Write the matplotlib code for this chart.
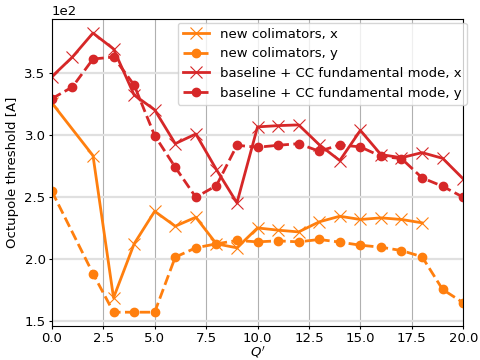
import matplotlib
matplotlib.use("Agg")
import matplotlib.pyplot as plt
import numpy as np

plt.rcParams['font.size'] = 9.5

# chromaticity Q' values
q_new = [0, 2, 3, 4, 5, 6, 7, 8, 9, 10, 11, 12, 13, 14, 15, 16, 17, 18]
q_new_y = [0, 2, 3, 4, 5, 6, 7, 8, 9, 10, 11, 12, 13, 14, 15, 16, 17, 18, 19, 20]
q_base = list(range(21))

# octupole thresholds [A]
new_x = [325.6, 283.2, 168.8, 212.2, 238.4, 226.4, 233.6, 212.2, 209.0, 225.0,
         223.2, 221.8, 229.9, 234.4, 231.8, 233.1, 231.8, 229.1]
new_y = [254.5, 188.3, 157.2, 157.2, 157.2, 201.5, 209.0, 212.2, 214.9, 213.8,
         214.6, 213.8, 215.7, 213.6, 211.1, 209.5, 206.8, 201.8, 175.5, 164.8]
base_x = [346.7, 362.5, 381.8, 369.0, 332.0, 320.0, 292.8, 300.6, 272.0, 245.2,
          306.3, 307.3, 307.9, 292.0, 279.2, 303.5, 284.0, 281.5, 285.6, 281.0, 264.5]
base_y = [329.0, 338.4, 360.9, 362.5, 340.0, 299.3, 273.8, 249.7, 259.0, 291.5,
          289.9, 291.5, 292.8, 286.7, 291.8, 290.2, 282.6, 280.8, 265.3, 258.5, 249.7]

fig, ax = plt.subplots(figsize=(4.8, 3.6), dpi=100)
fig.subplots_adjust(left=0.108, right=0.965, bottom=0.094, top=0.947)

ax.plot(q_new, new_x, '-x', color='tab:orange', lw=2, ms=8, mew=0.8,
        label='new colimators, x')
ax.plot(q_new_y, new_y, '--o', color='tab:orange', lw=2, ms=6,
        label='new colimators, y')
ax.plot(q_base, base_x, '-x', color='tab:red', lw=2, ms=8, mew=0.8,
        label='baseline + CC fundamental mode, x')
ax.plot(q_base, base_y, '--o', color='tab:red', lw=2, ms=6,
        label='baseline + CC fundamental mode, y')

ax.set_xlim(0, 20)
ax.ticklabel_format(axis='y', style='sci', scilimits=(0, 0))
ax.tick_params(length=2.5, pad=2)
ax.xaxis.grid(True, color='#b0b0b0', lw=0.8)
ax.yaxis.grid(True, color='#e0e0e0', lw=1.6)
ax.set_axisbelow(True)
ax.set_xlabel("$Q'$", labelpad=-1)
ax.set_ylabel("Octupole threshold [A]")
ax.legend(loc='upper right', bbox_to_anchor=(1.025, 1.01))

plt.savefig("out.png")
